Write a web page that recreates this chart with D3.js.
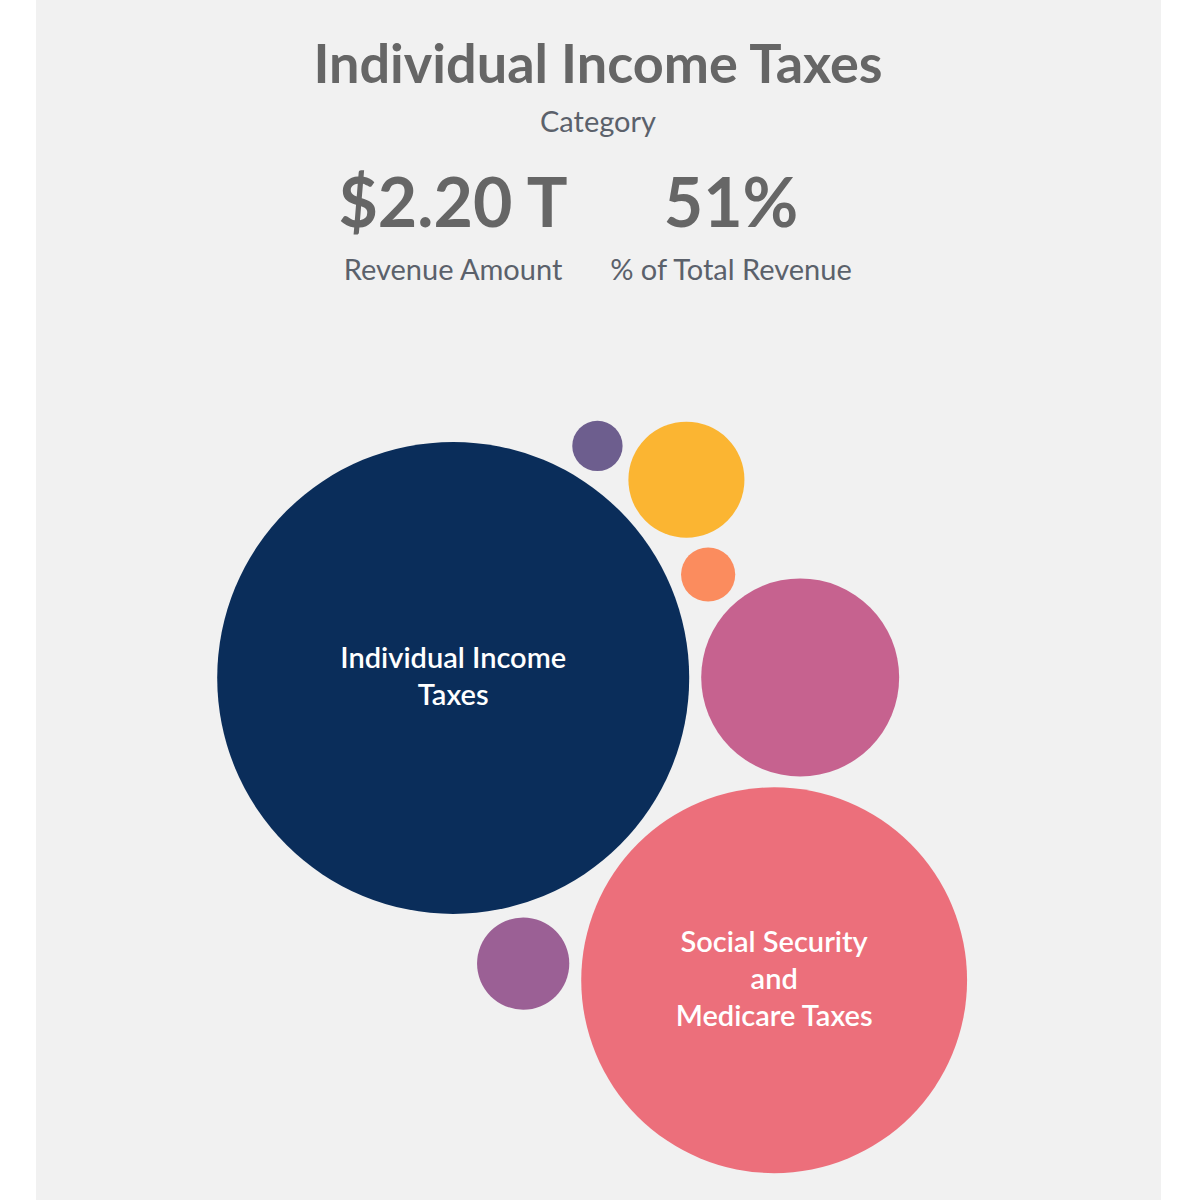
<!DOCTYPE html>
<html>
<head>
<meta charset="utf-8">
<script src="https://cdn.jsdelivr.net/npm/d3@7"></script>
<style>
  body { margin: 0; background: #fff; }
  svg text { font-family: 'Source Sans Pro', Lato, 'Noto Sans', sans-serif; }
</style>
</head>
<body>
<svg id="chart" width="1197" height="1200"></svg>
<script>
// revenue by category, trillions of dollars
var categories = ['Individual Income Taxes', 'Social Security and Medicare Taxes', 'Corporate Income Taxes',
    'Miscellaneous Receipts', 'Excise Taxes', 'Customs Duties', 'Estate and Gift Taxes'];
var amounts = [2.20, 1.47, 0.387, 0.133, 0.084, 0.029, 0.025];
var colors = ['#0a2d5a', '#ec6f7b', '#c6628f', '#fbb532', '#9b6095', '#fb8c5e', '#6d5e8e'];
// bubble labels split in lines (only the large ones are labelled)
var labels = [['Individual Income', 'Taxes'], ['Social Security', 'and', 'Medicare Taxes'], [], [], [], [], []];
var selected = 0;

// where each bubble is pulled to, as a fraction of the bubble area
var hintX = [0.371, 0.656, 0.679, 0.578, 0.433, 0.598, 0.499];
var hintY = [0.400, 0.747, 0.400, 0.172, 0.728, 0.282, 0.135];

var W = 1197, H = 1200;
var svg = d3.select('#chart');

svg.append('rect')
    .attr('x', 36).attr('y', 0)
    .attr('width', 1125).attr('height', H)
    .attr('fill', '#f1f1f1');

var total = d3.sum(amounts);

// header
var cx = 598;
svg.append('text')
    .attr('x', cx).attr('y', 83)
    .attr('text-anchor', 'middle')
    .attr('font-size', 54).attr('font-weight', 700)
    .attr('fill', '#666')
    .text(categories[selected]);

svg.append('text')
    .attr('x', cx).attr('y', 132)
    .attr('text-anchor', 'middle')
    .attr('font-size', 29)
    .attr('fill', '#5b616b')
    .text('Category');

var stats = [
    { x: 453, value: '$' + amounts[selected].toFixed(2) + ' T', label: 'Revenue Amount' },
    { x: 731, value: d3.format('.0%')(amounts[selected] / total), label: '% of Total Revenue' }
];

var stat = svg.selectAll('g.stat')
    .data(stats)
    .enter().append('g')
    .attr('class', 'stat');

stat.append('text')
    .attr('x', function (d) { return d.x; })
    .attr('y', 227)
    .attr('text-anchor', 'middle')
    .attr('font-size', 68).attr('font-weight', 700)
    .attr('fill', '#666')
    .text(function (d) { return d.value; });

stat.append('text')
    .attr('x', function (d) { return d.x; })
    .attr('y', 280)
    .attr('text-anchor', 'middle')
    .attr('font-size', 29)
    .attr('fill', '#5b616b')
    .text(function (d) { return d.label; });

// bubbles
var r = d3.scaleSqrt().domain([0, d3.max(amounts)]).range([0, 236]);
var x = d3.scaleLinear().domain([0, 1]).range([36, 1161]);
var y = d3.scaleLinear().domain([0, 1]).range([330, 1200]);

var nodes = categories.map(function (name, i) {
    return { name: name, value: amounts[i], color: colors[i], lines: labels[i],
        r: r(amounts[i]), tx: x(hintX[i]), ty: y(hintY[i]), x: x(hintX[i]), y: y(hintY[i]) };
});

var sim = d3.forceSimulation(nodes)
    .force('x', d3.forceX(function (d) { return d.tx; }).strength(0.2))
    .force('y', d3.forceY(function (d) { return d.ty; }).strength(0.2))
    .force('collide', d3.forceCollide(function (d) { return d.r + 6; }).iterations(3))
    .stop();

for (var i = 0; i < 300; i++) sim.tick();

var bubble = svg.selectAll('g.bubble')
    .data(nodes)
    .enter().append('g')
    .attr('class', 'bubble')
    .attr('transform', function (d) { return 'translate(' + d.x + ',' + d.y + ')'; });

bubble.append('circle')
    .attr('r', function (d) { return d.r; })
    .attr('fill', function (d) { return d.color; });

bubble.append('text')
    .attr('text-anchor', 'middle')
    .attr('font-size', 29).attr('font-weight', 600)
    .attr('fill', '#fff')
    .each(function (d) {
        var t = d3.select(this);
        var n = d.lines.length;
        d.lines.forEach(function (line, k) {
            t.append('tspan')
                .attr('x', 0)
                .attr('y', (k - (n - 1) / 2) * 37 + 9)
                .text(line);
        });
    });
</script>
</body>
</html>
